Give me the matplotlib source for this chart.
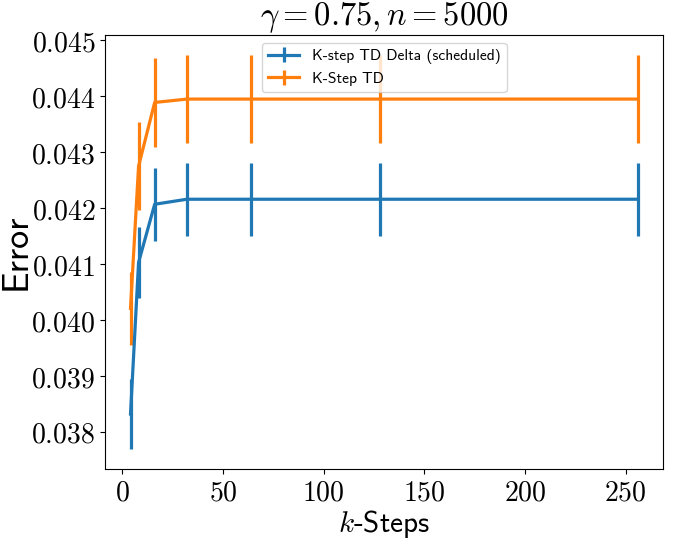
import numpy as np
import matplotlib.pyplot as plt
from matplotlib.ticker import FuncFormatter

plt.rcParams['mathtext.fontset'] = 'cm'
plt.rcParams['axes.unicode_minus'] = False

# k values and measured errors
k_steps = [4, 8, 16, 32, 64, 128, 256]

delta_mean = [0.03832, 0.04103, 0.04207, 0.04216, 0.04216, 0.04216, 0.04216]
delta_err = [0.00063, 0.00064, 0.00065, 0.00065, 0.00065, 0.00065, 0.00065]

td_mean = [0.04021, 0.04275, 0.04389, 0.04395, 0.04395, 0.04395, 0.04395]
td_err = [0.00065, 0.00079, 0.00079, 0.00079, 0.00079, 0.00079, 0.00079]

fig = plt.figure(figsize=(6.74, 5.41), dpi=100)
ax = fig.add_axes([0.156, 0.133, 0.828, 0.802])

ax.errorbar(k_steps, delta_mean, yerr=delta_err, color="#1f77b4", lw=2.3,
            elinewidth=2.3, label="K-step TD Delta (scheduled)")
ax.errorbar(k_steps, td_mean, yerr=td_err, color="#ff7f0e", lw=2.3,
            elinewidth=2.3, label="K-Step TD")

ax.set_xticks([0, 50, 100, 150, 200, 250])
ax.set_yticks([0.038, 0.039, 0.040, 0.041, 0.042, 0.043, 0.044, 0.045])
ax.xaxis.set_major_formatter(FuncFormatter(lambda v, p: f"${v:.0f}$"))
ax.yaxis.set_major_formatter(FuncFormatter(lambda v, p: f"${v:.3f}$"))
ax.tick_params(labelsize=20)

ax.set_title(r"$\gamma=0.75, n=5000$", fontsize=23.5, pad=4)
ax.set_xlabel(r"$k$-Steps", fontsize=21, family="cmss10", labelpad=1)
ax.set_ylabel("Error", fontsize=26, family="cmss10")
ax.yaxis.set_label_coords(-0.13, 0.5)

leg = ax.legend(loc="upper center", prop={"family": "cmss10", "size": 11.2})

fig.savefig("out.png", dpi=100)
